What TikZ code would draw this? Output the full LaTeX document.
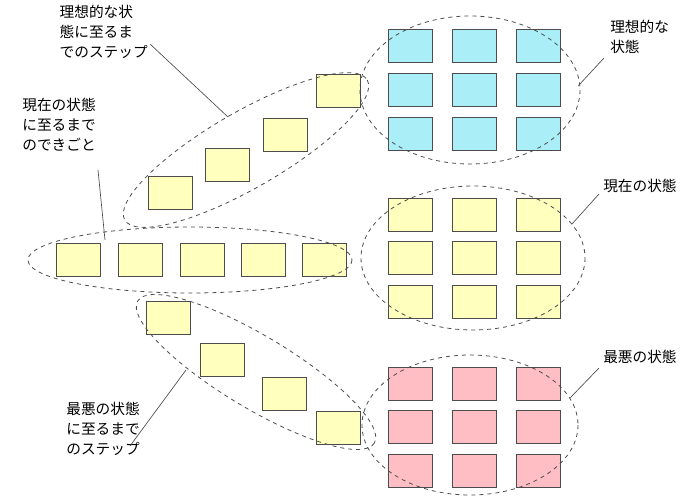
\documentclass[tikz,border=0pt]{standalone}
\usepackage{fontspec}
\setmainfont{Noto Sans CJK JP}
\usepackage{tikz}
\usetikzlibrary{positioning}

\definecolor{idealfill}{RGB}{170,238,248}
\definecolor{nowfill}{RGB}{255,255,190}
\definecolor{worstfill}{RGB}{255,190,196}

\tikzset{
  card/.style={draw=black!70,minimum width=33pt,minimum height=25pt,inner sep=0pt},
  group/.style={draw=black!70,dashed,line width=0.6pt},
  lbl/.style={align=left,font=\fontsize{11}{15}\selectfont,inner sep=0pt},
  lead/.style={draw=black!70,line width=0.5pt}
}

\begin{document}
\begin{tikzpicture}[x=0.75pt,y=-0.75pt]
	\useasboundingbox (0,0) rectangle (697,501);
	% grids
	\foreach \gx [count=\i] in {410,474,538} {
		\foreach \gy [count=\j] in {46,90,134}
			\node[card,fill=idealfill] (ideal\i\j) at (\gx,\gy) {};
		\foreach \gy [count=\j] in {215,258,302}
			\node[card,fill=nowfill] (now\i\j) at (\gx,\gy) {};
		\foreach \gy [count=\j] in {384,427,471}
			\node[card,fill=worstfill] (worst\i\j) at (\gx,\gy) {};
	}
	% row of events
	\foreach \gx [count=\i] in {78,140,202,263,324}
		\node[card,fill=nowfill] (event\i) at (\gx,260) {};
	% steps up
	\node[card,fill=nowfill] (up1) at (170,193) {};
	\node[card,fill=nowfill] (up2) at (227,165) {};
	\node[card,fill=nowfill] (up3) at (285,135) {};
	\node[card,fill=nowfill] (up4) at (338,91) {};
	% steps down
	\node[card,fill=nowfill] (down1) at (168,318) {};
	\node[card,fill=nowfill] (down2) at (222,360) {};
	\node[card,fill=nowfill] (down3) at (284,394) {};
	\node[card,fill=nowfill] (down4) at (338,428) {};
	% groups
	\draw[group] (470,90) ellipse [x radius=110,y radius=74];
	\draw[group] (473,258) ellipse [x radius=112,y radius=72];
	\draw[group] (470,425) ellipse [x radius=108,y radius=70];
	\draw[group] (190,260) ellipse [x radius=162,y radius=33];
	\draw[group,rotate around={30:(246,150)}] (246,150) ellipse [x radius=140,y radius=38];
	\draw[group,rotate around={-31:(256,372)}] (256,372) ellipse [x radius=138,y radius=36];
	% labels
	\node[lbl,anchor=north east] (idealtxt) at (148,5) {理想的な状\\態に至るま\\でのステップ};
	\node[lbl,anchor=north east] (eventtxt) at (96,98) {現在の状態\\に至るまで\\のできごと};
	\node[lbl,anchor=north east] (worsttxt) at (140,402) {最悪の状態\\に至るまで\\のステップ};
	\node[lbl,anchor=north west] (idealname) at (610,20) {理想的な\\状態};
	\node[lbl,anchor=west] (nowname) at (603,186) {現在の状態};
	\node[lbl,anchor=west] (worstname) at (603,357) {最悪の状態};
	% leaders
	\coordinate (p1) at (228,117);
	\coordinate (p2) at (105,240);
	\coordinate (p3) at (186,370);
	\coordinate (p4) at (578,86);
	\coordinate (p5) at (572,224);
	\coordinate (p6) at (570,398);
	\draw[lead] (150,44) -- (p1);
	\draw[lead] (98,170) -- (p2);
	\draw[lead] (130,446) -- (p3);
	\draw[lead] (604,58) -- (p4);
	\draw[lead] (599,194) -- (p5);
	\draw[lead] (599,368) -- (p6);
\end{tikzpicture}
\end{document}
